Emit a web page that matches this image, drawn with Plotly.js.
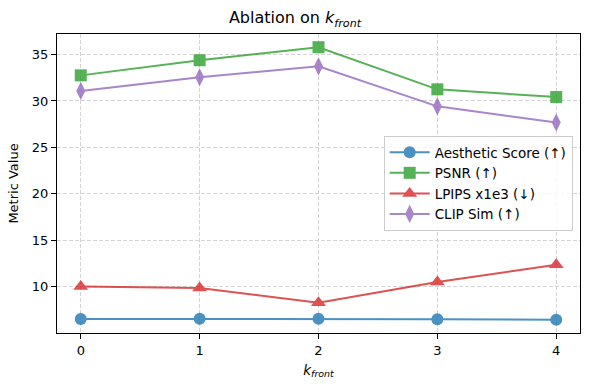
<!DOCTYPE html>
<html>
<head>
<meta charset="utf-8">
<script src="https://cdn.plot.ly/plotly-3.0.1.min.js"></script>
<style>
  body { margin: 0; background: #fff; }
  #chart { width: 590px; height: 390px; }
</style>
</head>
<body>
<div id="chart"></div>
<script>
// k_front values on the x axis
const kFront = [0, 1, 2, 3, 4];

// metric values
const aestheticScore = [6.55, 6.57, 6.58, 6.53, 6.46];
const psnr = [32.75, 34.38, 35.78, 31.25, 30.42];
const lpipsX1e3 = [10.05, 9.88, 8.3, 10.52, 12.38];
const clipSim = [31.08, 32.55, 33.72, 29.42, 27.68];

const seriesNames = ['Aesthetic Score (↑)', 'PSNR (↑)', 'LPIPS x1e3 (↓)', 'CLIP Sim (↑)'];
const seriesColors = ['#1f77b4', '#2ca02c', '#d62728', '#9467bd'];
const seriesSymbols = ['circle', 'square', 'triangle-up', 'diamond-tall'];
const seriesSizes = [12, 12, 13, 13];
const seriesValues = [aestheticScore, psnr, lpipsX1e3, clipSim];

const font = 'DejaVu Sans, sans-serif';

// one trace per metric
const traces = seriesValues.map(function (vals, i) {
    return {
        x: kFront,
        y: vals,
        type: 'scatter',
        mode: 'lines+markers',
        name: seriesNames[i],
        opacity: 0.8,
        line: { color: seriesColors[i], width: 2 },
        marker: {
            symbol: seriesSymbols[i],
            size: seriesSizes[i],
            color: seriesColors[i]
        }
    };
});

const axisCommon = {
    showline: true,
    linecolor: '#000',
    linewidth: 1,
    mirror: true,
    ticks: 'outside',
    ticklen: 5,
    tickcolor: '#000',
    showgrid: true,
    gridcolor: '#d4d4d4',
    griddash: '4px,2px',
    gridwidth: 1,
    zeroline: false,
    tickfont: { family: font, size: 13, color: '#000' }
};

const layout = {
    width: 590,
    height: 390,
    paper_bgcolor: '#fff',
    plot_bgcolor: '#fff',
    margin: { l: 57, r: 10, t: 34, b: 57 },
    title: {
        text: 'Ablation on <i>k</i><sub><i>front</i></sub>',
        font: { family: font, size: 16, color: '#000' },
        x: 0.5,
        xanchor: 'center',
        y: 0.955,
        yanchor: 'middle'
    },
    xaxis: Object.assign({}, axisCommon, {
        range: [-0.2, 4.2],
        tickvals: kFront,
        title: {
            text: '<i>k</i><sub><i>front</i></sub>',
            font: { family: font, size: 13.5, color: '#000' },
            standoff: 8
        }
    }),
    yaxis: Object.assign({}, axisCommon, {
        range: [5.04, 37.2],
        tickvals: [10, 15, 20, 25, 30, 35],
        title: {
            text: 'Metric Value',
            font: { family: font, size: 13, color: '#000' },
            standoff: 10
        }
    }),
    legend: {
        x: 0.986,
        xanchor: 'right',
        y: 0.5,
        yanchor: 'middle',
        bgcolor: 'rgba(255,255,255,0.8)',
        bordercolor: '#cccccc',
        borderwidth: 1,
        font: { family: font, size: 13.5, color: '#000' },
        itemwidth: 40,
        tracegroupgap: 0
    },
    showlegend: true
};

Plotly.newPlot('chart', traces, layout, { displayModeBar: false, staticPlot: true });
</script>
</body>
</html>
